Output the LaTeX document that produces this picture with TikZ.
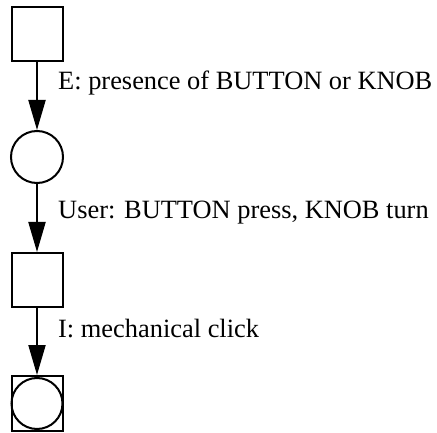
\documentclass[tikz,border=0pt]{standalone}
\usepackage{fontspec}
\setmainfont{Liberation Serif}
\usetikzlibrary{arrows.meta}
\begin{document}
\begin{tikzpicture}[x=1pt,y=1pt,
  box/.style={draw, line width=2pt, rectangle, minimum width=51pt, minimum height=54pt, inner sep=0pt},
  place/.style={draw, line width=2pt, circle, minimum size=52pt, inner sep=0pt},
  flow/.style={line width=2pt, -{Triangle[length=30pt,width=17pt]}},
  lbl/.style={anchor=base west, inner sep=0pt, font=\fontsize{26.4}{30}\selectfont}]
  \useasboundingbox (0,0) rectangle (437,-433);
  % chain of squares and circles
  \node[box] (s1) at (37,-34) {};
  \node[place] (c1) at (37,-157) {};
  \node[box] (s2) at (37,-280) {};
  \node[box, minimum height=55pt] (s3) at (37,-403.5) {};
  \node[place, minimum size=51pt] (c3) at (s3) {};
  % connectors
  \draw[flow] (s1.south) -- (c1.north);
  \draw[flow] (c1.south) -- (s2.north);
  \draw[flow] (s2.south) -- (s3.north);
  % labels
  \node[lbl] (l1) at (58,-90) {E: presence of BUTTON or KNOB};
  \node[lbl] (l2) at (58,-219) {User: BUTTON press, KNOB turn};
  \node[lbl] (l3) at (58,-337) {I: mechanical click};
\end{tikzpicture}
\end{document}
